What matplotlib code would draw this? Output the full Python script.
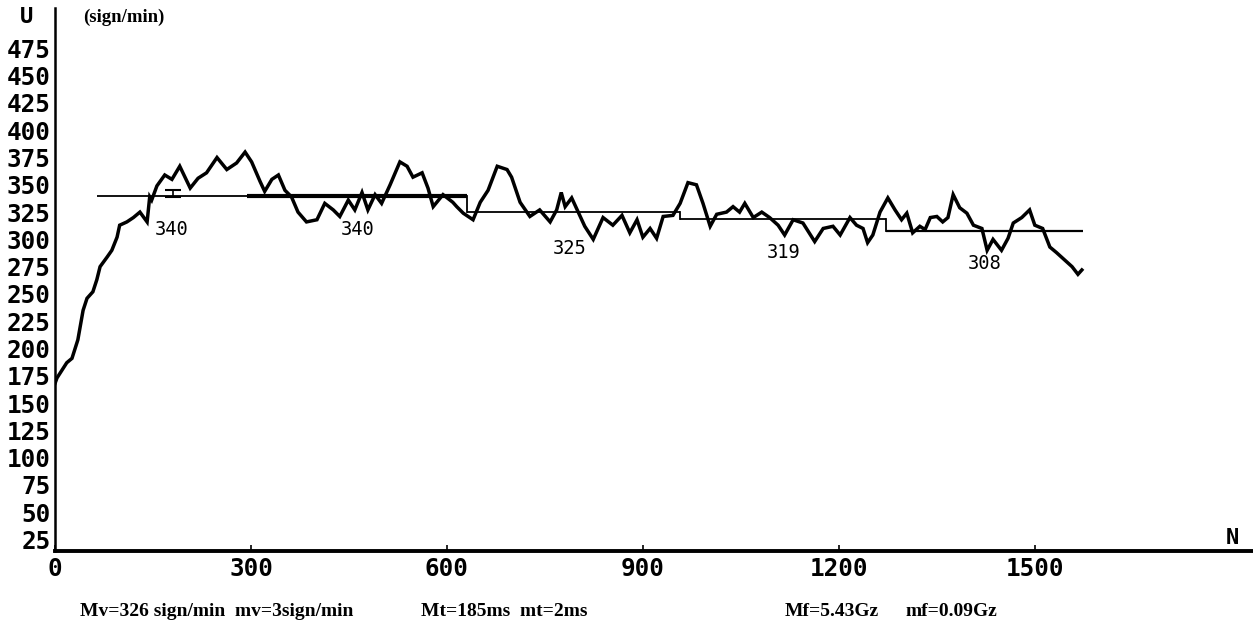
import matplotlib.pyplot as plt
import numpy as np

# ---------------------------------------------------------------------#
#                    DATA                       #
# ---------------------------------------------------------------------#
n_pts = [0, 3, 18, 26, 35, 43, 49, 58, 64, 69, 80, 87, 95, 99, 110, 120, 130,
         141, 145, 148, 156, 168, 179, 191, 207, 219, 232, 248, 263, 278, 291,
         301, 314, 321, 332, 342, 352, 362, 372, 385, 401, 413, 426, 436, 449,
         459, 470, 479, 490, 500, 513, 528, 539, 548, 562, 571, 579, 594, 609,
         615, 625, 640, 651, 663, 677, 692, 699, 712, 727, 742, 758, 768, 775,
         781, 791, 801, 811, 824, 839, 854, 868, 880, 891, 900, 911, 921, 931,
         946, 957, 969, 982, 992, 1003, 1013, 1028, 1038, 1048, 1056, 1069,
         1082, 1094, 1107, 1117, 1130, 1145, 1163, 1176, 1191, 1202, 1217,
         1227, 1237, 1244, 1252, 1263, 1275, 1286, 1296, 1304, 1313, 1324,
         1332, 1340, 1350, 1359, 1367, 1375, 1385, 1396, 1406, 1419, 1427,
         1436, 1449, 1459, 1467, 1480, 1492, 1500, 1512, 1523, 1533, 1546,
         1557, 1566, 1572]
u_pts = [168, 173, 187, 191, 208, 235, 246, 252, 263, 275, 284, 290, 302, 313,
         316, 320, 325, 316, 339, 336, 349, 359, 355, 367, 347, 356, 361, 375,
         364, 370, 380, 371, 353, 344, 355, 359, 345, 339, 325, 316, 318, 333,
         327, 321, 336, 327, 343, 327, 341, 333, 350, 371, 367, 357, 361, 347,
         330, 341, 334, 330, 324, 318, 334, 345, 367, 364, 357, 334, 321, 327,
         316, 327, 343, 330, 338, 325, 312, 300, 320, 313, 322, 306, 318, 302,
         310, 301, 321, 322, 333, 352, 350, 333, 312, 323, 325, 330, 325, 333,
         320, 325, 320, 313, 304, 318, 315, 298, 310, 312, 304, 320, 313, 310,
         297, 304, 325, 338, 327, 318, 324, 306, 312, 309, 320, 321, 316, 320,
         341, 329, 324, 313, 310, 290, 300, 290, 301, 315, 320, 327, 313, 310,
         293, 288, 281, 275, 268, 272]

# window means (start, end, level)
seg_start = [64, 294, 631, 957, 1272]
seg_end = [294, 631, 957, 1272, 1574]
seg_level = [340, 340, 325, 319, 308]
seg_width = [1.3, 3.0, 1.3, 1.3, 1.6]
seg_text = ["340", "340", "325", "319", "308"]
text_n = [178, 464, 788, 1115, 1423]
text_u = [309, 309, 292, 288, 278]

err_n, err_u, err_d = 181, 342, 3

y_ticks = list(range(25, 476, 25))
x_ticks = [0, 300, 600, 900, 1200, 1500]

# footer text, x position (px)
stats = [("Mv=326 sign/min  mv=3sign/min", 80),
         ("Mt=185ms  mt=2ms", 421),
         ("Mf=5.43Gz", 785),
         ("mf=0.09Gz", 906)]

# ---------------------------------------------------------------------#
#                               PLOT                                   #
# ---------------------------------------------------------------------#
W, H = 1253, 627
fig = plt.figure(figsize=(W / 100, H / 100), dpi=100)
ax = fig.add_axes([55 / W, (H - 551) / H, 1 - 55 / W, (551 - 8) / H])

ax.plot(n_pts, u_pts, color="black", lw=2.5, solid_joinstyle="miter")

for i in range(len(seg_level)):
    ax.plot([seg_start[i], seg_end[i]], [seg_level[i], seg_level[i]],
            color="black", lw=seg_width[i], solid_capstyle="butt")
    if i > 0:
        ax.plot([seg_start[i], seg_start[i]], [seg_level[i - 1], seg_level[i]],
                color="black", lw=1.3)
    ax.text(text_n[i], text_u[i], seg_text[i], ha="center", va="center",
            family="DejaVu Sans Mono", fontsize=13.5)

ax.errorbar([err_n], [err_u], yerr=[err_d], color="black", lw=1.2,
            capsize=6, capthick=1.5)

mono = "DejaVu Sans Mono"
ax.set_xlim(0, 1834)
ax.set_ylim(14.5, 512)
ax.set_yticks(y_ticks)
ax.set_yticklabels([str(v) for v in y_ticks], family=mono,
                   fontsize=17.5, fontweight="bold")
ax.set_xticks(x_ticks)
ax.set_xticklabels([str(v) for v in x_ticks], family=mono,
                   fontsize=17.5, fontweight="bold")
ax.tick_params(axis="y", length=0, pad=3)
ax.tick_params(axis="x", direction="in", length=4, width=1.2, pad=4)

for side in ["top", "right"]:
    ax.spines[side].set_visible(False)
ax.spines["left"].set_linewidth(1.8)
ax.spines["bottom"].set_linewidth(2.8)

fig.text(27 / W, 1 - 17 / H, "U", family=mono, fontweight="bold",
         fontsize=16, ha="center", va="center")
fig.text(83 / W, 1 - 17 / H, "(sign/min)", family="Liberation Serif",
         fontweight="bold", fontsize=13.5, ha="left", va="center")
fig.text(1232 / W, 1 - 538 / H, "N", family=mono, fontweight="bold",
         fontsize=16, ha="center", va="center")
for label, x0 in stats:
    fig.text(x0 / W, 1 - 611 / H, label, family="Liberation Serif",
             fontweight="bold", fontsize=14, ha="left", va="center")

fig.savefig("out.png", dpi=100)
